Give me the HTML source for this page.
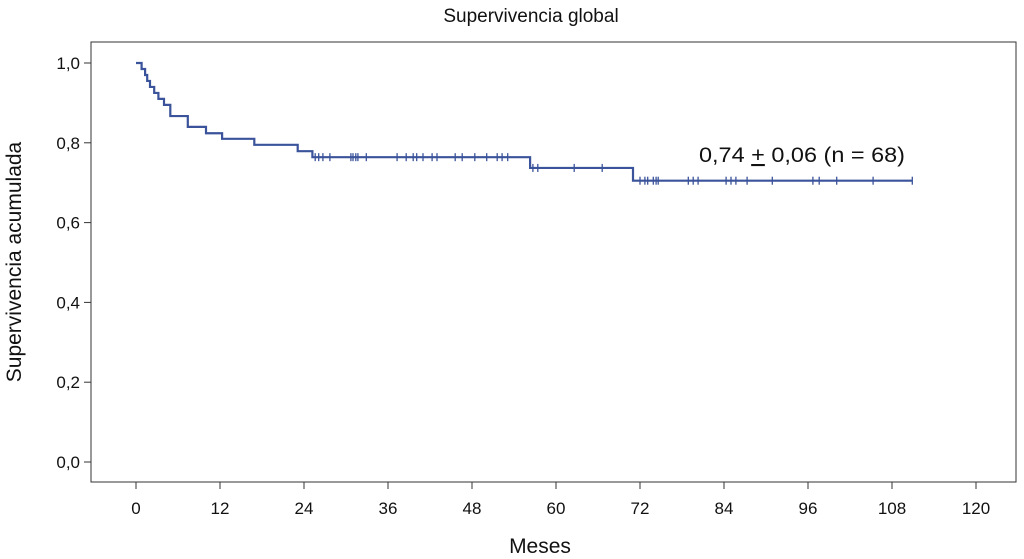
<!DOCTYPE html>
<html><head><meta charset="utf-8"><style>
body{margin:0;background:#fff;}
svg{display:block;font-family:"Liberation Sans",Arial,sans-serif;}
</style></head><body>
<svg id="c" width="1024" height="559">
<text x="531" y="22" font-size="19" text-anchor="middle" fill="#111">Supervivencia global</text>
<rect x="91" y="42" width="925" height="440" fill="none" stroke="#333" stroke-width="1"/>
<g id="axes"></g>
<path id="curve" fill="none" stroke="#3a539a" stroke-width="2.2"/>
<g id="cens" stroke="#3a539a" stroke-width="1.3"></g>
<text x="699" y="162" font-size="21" textLength="206" lengthAdjust="spacingAndGlyphs" fill="#111">0,74 <tspan text-decoration="underline">+</tspan> 0,06 (n = 68)</text>
<text x="540" y="553" font-size="21" text-anchor="middle" fill="#111">Meses</text>
<text transform="translate(21,262) rotate(-90)" font-size="21" text-anchor="middle" fill="#111">Supervivencia acumulada</text>
</svg>
<script>
const xTicks=[0,12,24,36,48,60,72,84,96,108,120];
const yTicks=[0,0.2,0.4,0.6,0.8,1.0];
const stepTimes=[0,0.8,1.3,1.6,2.0,2.6,3.2,4.0,4.9,7.4,10,12.3,16.9,23.1,25.2,56.3,71,110.9];
const stepValues=[1.0,0.985,0.97,0.955,0.94,0.925,0.91,0.895,0.867,0.84,0.824,0.81,0.795,0.779,0.764,0.737,0.705,0.705];
const censorTimes=[25.6,26.1,26.7,27.7,30.7,31.0,31.4,31.7,32.9,37.3,38.6,39.6,40.1,41,42.3,43,45.6,46.6,48.4,50.1,51.6,52.3,53.1,56.7,57.4,62.6,66.6,72,72.7,73.1,73.9,74.3,74.6,78.9,79.6,80.3,84.3,85,85.7,87.3,90.9,96.7,97.6,100.1,105.3,110.9];
const X=m=>136+m*7, Y=v=>462-v*399;
const NS="http://www.w3.org/2000/svg";
const ax=document.getElementById('axes');
function mk(tag,attrs,parent){const e=document.createElementNS(NS,tag);for(const k in attrs)e.setAttribute(k,attrs[k]);parent.appendChild(e);return e;}
xTicks.forEach(t=>{
  const l=mk('line',{x1:X(t),x2:X(t),y1:482,y2:489,stroke:'#333'},ax);
  
  
  const tx=mk('text',{x:X(t),y:514,'font-size':17,'text-anchor':'middle',fill:'#111'},ax);tx.textContent=t;
  
  
});
yTicks.forEach(t=>{
  const l=mk('line',{x1:84,x2:91,y1:Y(t),y2:Y(t),stroke:'#333'},ax);
  
  
  const tx=mk('text',{x:80,y:Y(t)+6,'font-size':17,'text-anchor':'end',fill:'#111'},ax);tx.textContent=t.toFixed(1).replace('.',',');
  
  
});
function valAt(t){let v=stepValues[0];for(let i=0;i<stepTimes.length;i++){if(stepTimes[i]<=t)v=stepValues[i];}return v;}
let d='M'+X(stepTimes[0])+','+Y(stepValues[0]);
for(let i=1;i<stepTimes.length;i++){d+=' H'+X(stepTimes[i])+' V'+Y(stepValues[i]);}
document.getElementById('curve').setAttribute('d',d);
const cg=document.getElementById('cens');
censorTimes.forEach(t=>{
  const y=Y(valAt(t));
  const l=mk('line',{x1:X(t),x2:X(t),y1:y-4,y2:y+4},cg);
  
  
});
</script>
</body></html>
